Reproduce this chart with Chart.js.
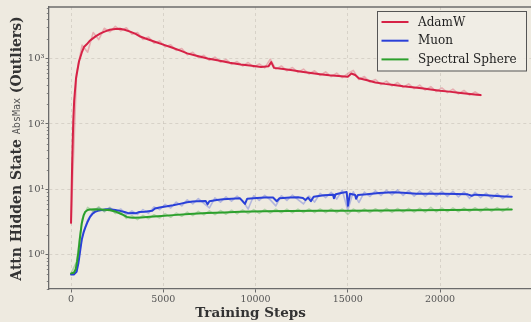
<!DOCTYPE html>
<html>
<head>
<meta charset="utf-8">
<script src="https://cdn.jsdelivr.net/npm/chart.js@4.4.1/dist/chart.umd.min.js"></script>
<style>
  html, body { margin: 0; padding: 0; background: #eeeae0; overflow: hidden; width: 531px; height: 322px; }
  #wrap { position: relative; width: 540px; height: 322px; }
</style>
</head>
<body>
<div id="wrap"><canvas id="chart" width="540" height="322"></canvas></div>
<script>
// ---- data ---------------------------------------------------------------
const xTickValues = [0, 5000, 10000, 15000, 20000];
const yTickValues = [1, 10, 100, 1000];
const yTickLabels = ['10\u2070', '10\u00b9', '10\u00b2', '10\u00b3'];

// smoothed curves
const adamwSteps = [0, 60, 120, 170, 270, 430, 600, 700, 850, 1000, 1150, 1350, 1600, 1850, 2100, 2400, 2650, 2900, 3200, 3500, 3750, 4000, 4500, 5000, 5500, 6000, 6300, 6800, 7400, 8000, 8600, 9200, 9800, 10300, 10700, 10850, 11000, 11500, 12000, 12500, 13000, 13500, 14000, 14500, 15000, 15200, 15400, 15600, 16000, 16500, 17000, 17500, 18000, 18500, 19000, 19500, 20000, 20500, 21000, 21500, 22000, 22200];
const adamwValues = [3.1, 25, 110, 230, 500, 900, 1280, 1500, 1650, 1850, 2000, 2200, 2420, 2600, 2750, 2830, 2850, 2760, 2580, 2380, 2170, 2040, 1820, 1630, 1460, 1300, 1200, 1100, 1000, 930, 860, 810, 775, 745, 760, 880, 720, 690, 660, 630, 600, 575, 555, 540, 525, 590, 560, 500, 470, 430, 410, 395, 378, 365, 350, 335, 322, 312, 300, 290, 280, 276];

const muonSteps = [0, 150, 300, 400, 450, 520, 580, 680, 760, 900, 1030, 1150, 1300, 1450, 1600, 1900, 2100, 2400, 2650, 2900, 3100, 3350, 3500, 3700, 4000, 4400, 4550, 4800, 5200, 5530, 5900, 6290, 6600, 6830, 7300, 7400, 7500, 7900, 8240, 8700, 9160, 9430, 9550, 10080, 10500, 10950, 11150, 11300, 11870, 12300, 12570, 12700, 12850, 13000, 13150, 13700, 14200, 14250, 14350, 14700, 14940, 15010, 15120, 15400, 15450, 15550, 16030, 16700, 17450, 18000, 18740, 19400, 20160, 20900, 21500, 21720, 21900, 22500, 23070, 23500, 23890];
const muonValues = [0.5, 0.5, 0.55, 0.75, 0.94, 1.3, 1.69, 2.2, 2.56, 3.2, 3.8, 4.2, 4.53, 4.7, 4.8, 4.95, 4.97, 4.85, 4.69, 4.5, 4.33, 4.37, 4.3, 4.5, 4.55, 4.7, 5.1, 5.3, 5.5, 5.7, 6.0, 6.35, 6.5, 6.6, 6.65, 5.9, 6.6, 6.9, 7.06, 7.2, 7.3, 6.0, 7.2, 7.4, 7.5, 7.5, 6.6, 7.3, 7.5, 7.6, 7.4, 6.9, 7.5, 6.6, 7.7, 8.1, 8.3, 7.3, 8.4, 8.9, 9.1, 5.6, 8.6, 8.2, 7.2, 8.2, 8.4, 8.8, 9.0, 8.9, 8.6, 8.6, 8.6, 8.5, 8.4, 8.0, 8.3, 8.1, 7.9, 7.8, 7.7];

const sphereSteps = [0, 150, 250, 330, 400, 480, 580, 680, 760, 900, 1030, 1300, 1570, 1800, 2110, 2400, 2656, 2850, 3020, 3200, 3360, 3800, 4280, 4900, 5530, 6400, 7370, 8300, 9160, 10500, 11870, 13500, 15120, 16900, 18740, 20500, 22200, 23890];
const sphereValues = [0.52, 0.53, 0.6, 0.8, 1.1, 1.8, 3.0, 4.0, 4.5, 4.85, 4.93, 4.95, 4.93, 4.88, 4.8, 4.6, 4.28, 4.05, 3.8, 3.7, 3.67, 3.72, 3.8, 3.92, 4.04, 4.2, 4.37, 4.45, 4.53, 4.62, 4.69, 4.7, 4.7, 4.75, 4.8, 4.85, 4.9, 4.93];

// raw (unsmoothed) logs, one value every RAW_STRIDE steps
const RAW_STRIDE = 300;
const adamwRaw = [3.0, 600, 1600, 1250, 2500, 1950, 2900, 2550, 3100, 2650, 2950, 2350, 2500, 1960, 2130, 1720, 1850, 1510, 1620, 1330, 1420, 1140, 1250, 1030, 1120, 940, 1050, 880, 970, 815, 900, 770, 870, 740, 830, 720, 980, 690, 770, 650, 730, 615, 690, 580, 650, 552, 625, 530, 600, 512, 590, 660, 478, 530, 437, 478, 400, 452, 382, 430, 362, 410, 347, 392, 330, 372, 313, 355, 301, 340, 288, 325, 276, 310, 272];
const muonRaw = [0.5, 0.56, 1.9, 3.4, 4.6, 5.2, 4.6, 5.3, 4.5, 5.0, 4.1, 4.7, 4.15, 4.9, 4.3, 5.4, 4.9, 5.9, 5.2, 6.4, 5.6, 6.9, 6.0, 7.2, 6.1, 5.2, 7.4, 6.4, 7.7, 6.6, 7.9, 6.7, 5.0, 8.0, 6.8, 8.1, 6.9, 5.6, 8.0, 6.8, 8.2, 7.0, 6.0, 7.9, 6.4, 8.7, 7.5, 9.0, 7.1, 9.7, 4.8, 9.2, 6.3, 9.1, 7.8, 9.5, 8.1, 9.7, 8.2, 9.8, 8.1, 9.6, 7.9, 9.4, 7.8, 9.4, 7.9, 9.3, 7.8, 9.3, 7.7, 9.2, 7.3, 9.0, 7.5, 8.8, 7.3, 8.6, 7.2, 8.4];
const sphereRaw = [0.52, 0.78, 3.5, 5.3, 4.6, 5.4, 4.55, 5.2, 4.3, 4.5, 3.6, 3.95, 3.45, 4.0, 3.55, 4.1, 3.65, 4.25, 3.75, 4.35, 3.88, 4.5, 3.97, 4.6, 4.07, 4.7, 4.12, 4.75, 4.17, 4.8, 4.22, 4.85, 4.27, 4.9, 4.3, 4.95, 4.33, 4.97, 4.36, 5.0, 4.38, 5.0, 4.4, 5.02, 4.4, 5.02, 4.4, 5.03, 4.4, 5.02, 4.15, 5.02, 4.4, 5.05, 4.42, 5.06, 4.44, 5.1, 4.46, 5.1, 4.48, 5.14, 4.49, 5.15, 4.5, 5.3, 4.52, 5.2, 4.53, 5.2, 4.55, 5.22, 4.57, 5.24, 4.58, 5.25, 4.6, 5.27, 4.6, 5.27];

// ---- styling ------------------------------------------------------------
const BG = '#eeeae0';
const RED = '#d62246';
const BLUE = '#2a40d8';
const GREEN = '#2ca02c';

const pts = (xs, ys) => ys.map((y, i) => ({ x: xs[i], y }));
const rawPts = ys => ys.map((y, i) => ({ x: i * RAW_STRIDE, y }));
const alpha = (hex, a) => {
  const n = parseInt(hex.slice(1), 16);
  return `rgba(${n >> 16},${(n >> 8) & 255},${n & 255},${a})`;
};

const series = [
  { label: 'AdamW', color: RED, steps: adamwSteps, values: adamwValues, raw: adamwRaw },
  { label: 'Muon', color: BLUE, steps: muonSteps, values: muonValues, raw: muonRaw },
  { label: 'Spectral Sphere', color: GREEN, steps: sphereSteps, values: sphereValues, raw: sphereRaw }
];

const datasets = [];
series.forEach((s, i) => {
  const base = (series.length - 1 - i) * 2;
  datasets.push({
    label: s.label + ' raw', data: rawPts(s.raw), borderColor: alpha(s.color, 0.3),
    borderWidth: 1.6, order: base + 1, isRaw: true
  });
  datasets.push({
    label: s.label, data: pts(s.steps, s.values), borderColor: s.color,
    borderWidth: 2, order: base
  });
});

const SERIF = '"DejaVu Serif", "Liberation Serif", serif';

// frame, minor ticks, axis titles and legend box
const decorPlugin = {
  id: 'decor',
  beforeDraw(chart) {
    const { ctx, width, height } = chart;
    ctx.save();
    ctx.fillStyle = BG;
    ctx.fillRect(0, 0, width, height);
    ctx.restore();
  },
  afterDraw(chart) {
    const { ctx, chartArea: a } = chart;
    const yScale = chart.scales.y;
    ctx.save();

    // top spine
    ctx.strokeStyle = '#6b6b6b';
    ctx.lineWidth = 1.3;
    ctx.beginPath();
    ctx.moveTo(a.left - 0.6, a.top);
    ctx.lineTo(a.right, a.top);
    ctx.stroke();

    // minor log ticks on the y axis
    ctx.lineWidth = 0.8;
    for (let e = -1; e <= 3; e++) {
      for (let k = 2; k <= 9; k++) {
        const v = k * Math.pow(10, e);
        if (v < yScale.min || v > yScale.max) continue;
        const py = Math.round(yScale.getPixelForValue(v)) + 0.5;
        ctx.beginPath();
        ctx.moveTo(a.left - 2.2, py);
        ctx.lineTo(a.left, py);
        ctx.stroke();
      }
    }

    // x axis title
    ctx.fillStyle = '#333';
    ctx.font = `bold 13.5px ${SERIF}`;
    ctx.textAlign = 'center';
    ctx.textBaseline = 'middle';
    ctx.fillText('Training Steps', 250.5, 313);

    // y axis title (mixed fonts)
    const parts = [
      { t: 'Attn Hidden State ', f: `bold 14px ${SERIF}`, c: '#333' },
      { t: 'AbsMax', f: '10px "DejaVu Sans Mono", monospace', c: '#555' },
      { t: ' (Outliers)', f: `bold 14px ${SERIF}`, c: '#333' }
    ];
    let total = 0;
    parts.forEach(p => { ctx.font = p.f; p.w = ctx.measureText(p.t).width; total += p.w; });
    ctx.translate(17, 148.5);
    ctx.rotate(-Math.PI / 2);
    ctx.textAlign = 'left';
    let cx = -total / 2;
    parts.forEach(p => {
      ctx.font = p.f;
      ctx.fillStyle = p.c;
      ctx.fillText(p.t, cx, 0.5);
      cx += p.w;
    });
    ctx.setTransform(1, 0, 0, 1, 0, 0);

    // legend
    const entries = chart.data.datasets.filter(d => !d.isRaw);
    const lx = 377.5, ly = 11.5, lw = 149, lh = 59.5;
    ctx.fillStyle = 'rgba(240,237,229,0.85)';
    ctx.fillRect(lx, ly, lw, lh);
    ctx.strokeStyle = '#555';
    ctx.lineWidth = 1;
    ctx.strokeRect(lx, ly, lw, lh);
    ctx.font = `12px ${SERIF}`;
    ctx.textBaseline = 'middle';
    ctx.textAlign = 'left';
    entries.forEach((d, i) => {
      const ry = 22 + i * 18.7;
      ctx.strokeStyle = d.borderColor;
      ctx.lineWidth = 2;
      ctx.beginPath();
      ctx.moveTo(381.5, ry);
      ctx.lineTo(408.5, ry);
      ctx.stroke();
      ctx.fillStyle = '#222';
      ctx.fillText(d.label, 418, ry + 0.5);
    });
    ctx.restore();
  }
};

new Chart(document.getElementById('chart'), {
  type: 'line',
  data: { datasets },
  options: {
    responsive: false,
    animation: false,
    layout: { padding: { left: 0, top: 5, right: 6, bottom: 0 } },
    plugins: { legend: { display: false }, tooltip: { enabled: false } },
    elements: {
      point: { radius: 0 },
      line: { tension: 0, borderJoinStyle: 'round', borderCapStyle: 'round', fill: false }
    },
    scales: {
      x: {
        type: 'linear',
        min: -1195,
        max: 25095,
        afterBuildTicks: s => { s.ticks = xTickValues.map(v => ({ value: v })); },
        afterFit: s => { s.height = 33; },
        ticks: {
          font: { family: SERIF, size: 9.5 },
          color: '#555',
          padding: 1.5,
          maxRotation: 0,
          autoSkip: false,
          callback: v => String(v)
        },
        grid: {
          color: 'rgba(185,180,170,0.55)',
          lineWidth: 0.8,
          tickLength: 3.5,
          tickColor: '#6b6b6b',
          tickWidth: 1
        },
        border: { display: true, color: '#6b6b6b', width: 1.3, dash: [3, 3] }
      },
      y: {
        type: 'logarithmic',
        min: 0.306,
        max: 6135,
        afterBuildTicks: s => { s.ticks = yTickValues.map(v => ({ value: v })); },
        afterFit: s => { s.width = 49; },
        ticks: {
          font: { family: SERIF, size: 10 },
          color: '#555',
          padding: 1,
          autoSkip: false,
          callback: v => yTickLabels[yTickValues.indexOf(v)] ?? ''
        },
        grid: {
          color: 'rgba(185,180,170,0.55)',
          lineWidth: 0.8,
          tickLength: 3.5,
          tickColor: '#6b6b6b',
          tickWidth: 1
        },
        border: { display: true, color: '#6b6b6b', width: 1.3, dash: [3, 3] }
      }
    }
  },
  plugins: [decorPlugin]
});
</script>
</body>
</html>
